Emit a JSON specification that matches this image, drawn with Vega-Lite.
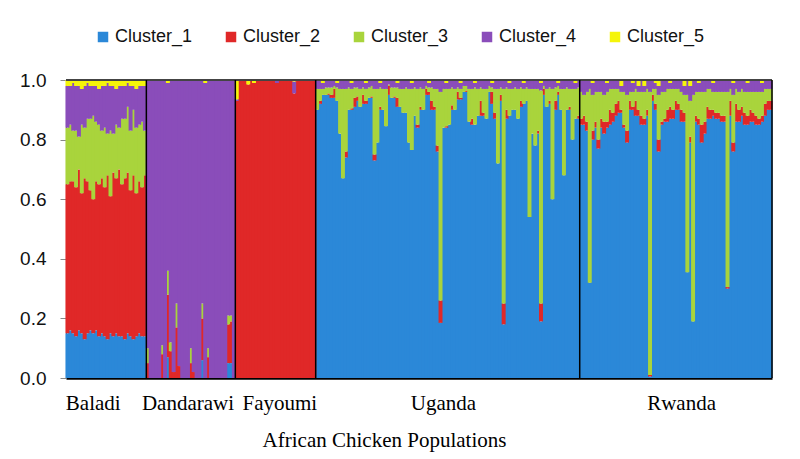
{
"$schema": "https://vega.github.io/schema/vega-lite/v6.json",
"autosize": {"type": "none"},
"width": 706, "height": 298,
"padding": {"left": 66, "top": 80, "right": 28, "bottom": 81},
"background": "white",
"config": {"view": {"stroke": null}},
"datasets": {
"q": [
{"id":1,"pop":"Baladi","b1":0.15,"b2":0.65,"b3":0.84,"b4":0.98},
{"id":2,"pop":"Baladi","b1":0.16,"b2":0.66,"b3":0.85,"b4":0.98},
{"id":3,"pop":"Baladi","b1":0.15,"b2":0.66,"b3":0.83,"b4":0.99},
{"id":4,"pop":"Baladi","b1":0.14,"b2":0.64,"b3":0.83,"b4":0.98},
{"id":5,"pop":"Baladi","b1":0.16,"b2":0.70,"b3":0.81,"b4":0.98},
{"id":6,"pop":"Baladi","b1":0.15,"b2":0.62,"b3":0.85,"b4":0.97},
{"id":7,"pop":"Baladi","b1":0.13,"b2":0.67,"b3":0.84,"b4":0.98},
{"id":8,"pop":"Baladi","b1":0.15,"b2":0.66,"b3":0.87,"b4":0.99},
{"id":9,"pop":"Baladi","b1":0.16,"b2":0.63,"b3":0.87,"b4":0.98},
{"id":10,"pop":"Baladi","b1":0.15,"b2":0.60,"b3":0.88,"b4":0.98},
{"id":11,"pop":"Baladi","b1":0.16,"b2":0.66,"b3":0.86,"b4":0.98},
{"id":12,"pop":"Baladi","b1":0.14,"b2":0.65,"b3":0.85,"b4":0.97},
{"id":13,"pop":"Baladi","b1":0.15,"b2":0.67,"b3":0.83,"b4":0.98},
{"id":14,"pop":"Baladi","b1":0.14,"b2":0.64,"b3":0.84,"b4":0.98},
{"id":15,"pop":"Baladi","b1":0.13,"b2":0.68,"b3":0.82,"b4":0.99},
{"id":16,"pop":"Baladi","b1":0.15,"b2":0.61,"b3":0.83,"b4":0.98},
{"id":17,"pop":"Baladi","b1":0.14,"b2":0.69,"b3":0.82,"b4":0.98},
{"id":18,"pop":"Baladi","b1":0.15,"b2":0.67,"b3":0.85,"b4":0.97},
{"id":19,"pop":"Baladi","b1":0.14,"b2":0.70,"b3":0.84,"b4":0.98},
{"id":20,"pop":"Baladi","b1":0.14,"b2":0.65,"b3":0.87,"b4":0.98},
{"id":21,"pop":"Baladi","b1":0.13,"b2":0.67,"b3":0.87,"b4":0.98},
{"id":22,"pop":"Baladi","b1":0.15,"b2":0.69,"b3":0.91,"b4":0.99},
{"id":23,"pop":"Baladi","b1":0.14,"b2":0.63,"b3":0.83,"b4":0.98},
{"id":24,"pop":"Baladi","b1":0.13,"b2":0.68,"b3":0.90,"b4":0.98},
{"id":25,"pop":"Baladi","b1":0.14,"b2":0.62,"b3":0.84,"b4":0.97},
{"id":26,"pop":"Baladi","b1":0.15,"b2":0.66,"b3":0.85,"b4":0.98},
{"id":27,"pop":"Baladi","b1":0.14,"b2":0.64,"b3":0.86,"b4":0.98},
{"id":28,"pop":"Baladi","b1":0.14,"b2":0.68,"b3":0.83,"b4":0.98},
{"id":29,"pop":"Dandarawi","b1":0,"b2":0.05,"b3":0.10,"b4":1},
{"id":30,"pop":"Dandarawi","b1":0,"b2":0,"b3":0,"b4":1},
{"id":31,"pop":"Dandarawi","b1":0,"b2":0,"b3":0,"b4":1},
{"id":32,"pop":"Dandarawi","b1":0,"b2":0,"b3":0,"b4":1},
{"id":33,"pop":"Dandarawi","b1":0,"b2":0,"b3":0,"b4":1},
{"id":34,"pop":"Dandarawi","b1":0,"b2":0.08,"b3":0.11,"b4":1},
{"id":35,"pop":"Dandarawi","b1":0,"b2":0,"b3":0,"b4":1},
{"id":36,"pop":"Dandarawi","b1":0.07,"b2":0.28,"b3":0.36,"b4":0.99},
{"id":37,"pop":"Dandarawi","b1":0,"b2":0.09,"b3":0.12,"b4":1},
{"id":38,"pop":"Dandarawi","b1":0,"b2":0.02,"b3":0.02,"b4":1},
{"id":39,"pop":"Dandarawi","b1":0,"b2":0.17,"b3":0.25,"b4":1},
{"id":40,"pop":"Dandarawi","b1":0,"b2":0.04,"b3":0.04,"b4":1},
{"id":41,"pop":"Dandarawi","b1":0,"b2":0,"b3":0,"b4":1},
{"id":42,"pop":"Dandarawi","b1":0,"b2":0,"b3":0,"b4":1},
{"id":43,"pop":"Dandarawi","b1":0,"b2":0,"b3":0,"b4":1},
{"id":44,"pop":"Dandarawi","b1":0,"b2":0.05,"b3":0.10,"b4":1},
{"id":45,"pop":"Dandarawi","b1":0,"b2":0.02,"b3":0.02,"b4":1},
{"id":46,"pop":"Dandarawi","b1":0,"b2":0,"b3":0,"b4":1},
{"id":47,"pop":"Dandarawi","b1":0,"b2":0,"b3":0,"b4":1},
{"id":48,"pop":"Dandarawi","b1":0.06,"b2":0.20,"b3":0.25,"b4":1},
{"id":49,"pop":"Dandarawi","b1":0,"b2":0,"b3":0,"b4":0.99},
{"id":50,"pop":"Dandarawi","b1":0,"b2":0.07,"b3":0.10,"b4":1},
{"id":51,"pop":"Dandarawi","b1":0,"b2":0,"b3":0,"b4":1},
{"id":52,"pop":"Dandarawi","b1":0,"b2":0,"b3":0,"b4":1},
{"id":53,"pop":"Dandarawi","b1":0,"b2":0,"b3":0,"b4":1},
{"id":54,"pop":"Dandarawi","b1":0,"b2":0,"b3":0,"b4":1},
{"id":55,"pop":"Dandarawi","b1":0,"b2":0,"b3":0,"b4":1},
{"id":56,"pop":"Dandarawi","b1":0,"b2":0,"b3":0,"b4":1},
{"id":57,"pop":"Dandarawi","b1":0.05,"b2":0.18,"b3":0.21,"b4":1},
{"id":58,"pop":"Dandarawi","b1":0.05,"b2":0.19,"b3":0.21,"b4":1},
{"id":59,"pop":"Dandarawi","b1":0,"b2":0,"b3":0,"b4":1},
{"id":60,"pop":"Fayoumi","b1":0,"b2":0.93,"b3":0.93,"b4":0.935},
{"id":61,"pop":"Fayoumi","b1":0,"b2":1,"b3":1,"b4":1},
{"id":62,"pop":"Fayoumi","b1":0,"b2":1,"b3":1,"b4":1},
{"id":63,"pop":"Fayoumi","b1":0,"b2":1,"b3":1,"b4":1},
{"id":64,"pop":"Fayoumi","b1":0,"b2":0.985,"b3":0.985,"b4":0.985},
{"id":65,"pop":"Fayoumi","b1":0,"b2":1,"b3":1,"b4":1},
{"id":66,"pop":"Fayoumi","b1":0,"b2":0.99,"b3":0.99,"b4":0.99},
{"id":67,"pop":"Fayoumi","b1":0,"b2":1,"b3":1,"b4":1},
{"id":68,"pop":"Fayoumi","b1":0,"b2":1,"b3":1,"b4":1},
{"id":69,"pop":"Fayoumi","b1":0,"b2":1,"b3":1,"b4":1},
{"id":70,"pop":"Fayoumi","b1":0,"b2":1,"b3":1,"b4":1},
{"id":71,"pop":"Fayoumi","b1":0,"b2":1,"b3":1,"b4":1},
{"id":72,"pop":"Fayoumi","b1":0,"b2":1,"b3":1,"b4":1},
{"id":73,"pop":"Fayoumi","b1":0,"b2":1,"b3":1,"b4":1},
{"id":74,"pop":"Fayoumi","b1":0,"b2":0.99,"b3":0.99,"b4":1},
{"id":75,"pop":"Fayoumi","b1":0,"b2":1,"b3":1,"b4":1},
{"id":76,"pop":"Fayoumi","b1":0,"b2":1,"b3":1,"b4":1},
{"id":77,"pop":"Fayoumi","b1":0,"b2":1,"b3":1,"b4":1},
{"id":78,"pop":"Fayoumi","b1":0,"b2":1,"b3":1,"b4":1},
{"id":79,"pop":"Fayoumi","b1":0,"b2":1,"b3":1,"b4":1},
{"id":80,"pop":"Fayoumi","b1":0,"b2":0.955,"b3":0.955,"b4":0.995},
{"id":81,"pop":"Fayoumi","b1":0,"b2":1,"b3":1,"b4":1},
{"id":82,"pop":"Fayoumi","b1":0,"b2":1,"b3":1,"b4":1},
{"id":83,"pop":"Fayoumi","b1":0,"b2":1,"b3":1,"b4":1},
{"id":84,"pop":"Fayoumi","b1":0,"b2":1,"b3":1,"b4":1},
{"id":85,"pop":"Fayoumi","b1":0,"b2":1,"b3":1,"b4":1},
{"id":86,"pop":"Fayoumi","b1":0,"b2":1,"b3":1,"b4":1},
{"id":87,"pop":"Fayoumi","b1":0,"b2":1,"b3":1,"b4":1},
{"id":88,"pop":"Uganda","b1":0.90,"b2":0.90,"b3":0.97,"b4":0.997},
{"id":89,"pop":"Uganda","b1":0.92,"b2":0.93,"b3":0.97,"b4":0.997},
{"id":90,"pop":"Uganda","b1":0.95,"b2":0.95,"b3":0.97,"b4":0.99},
{"id":91,"pop":"Uganda","b1":0.95,"b2":0.95,"b3":0.975,"b4":0.997},
{"id":92,"pop":"Uganda","b1":0.95,"b2":0.955,"b3":0.975,"b4":0.997},
{"id":93,"pop":"Uganda","b1":0.94,"b2":0.95,"b3":0.975,"b4":0.997},
{"id":94,"pop":"Uganda","b1":0.94,"b2":0.97,"b3":0.98,"b4":0.997},
{"id":95,"pop":"Uganda","b1":0.93,"b2":0.93,"b3":0.975,"b4":0.99},
{"id":96,"pop":"Uganda","b1":0.82,"b2":0.82,"b3":0.97,"b4":0.997},
{"id":97,"pop":"Uganda","b1":0.67,"b2":0.67,"b3":0.97,"b4":0.997},
{"id":98,"pop":"Uganda","b1":0.74,"b2":0.76,"b3":0.97,"b4":0.997},
{"id":99,"pop":"Uganda","b1":0.90,"b2":0.90,"b3":0.975,"b4":0.997},
{"id":100,"pop":"Uganda","b1":0.90,"b2":0.905,"b3":0.97,"b4":0.99},
{"id":101,"pop":"Uganda","b1":0.91,"b2":0.94,"b3":0.975,"b4":0.997},
{"id":102,"pop":"Uganda","b1":0.93,"b2":0.945,"b3":0.975,"b4":0.997},
{"id":103,"pop":"Uganda","b1":0.91,"b2":0.91,"b3":0.97,"b4":0.997},
{"id":104,"pop":"Uganda","b1":0.92,"b2":0.95,"b3":0.975,"b4":0.997},
{"id":105,"pop":"Uganda","b1":0.92,"b2":0.93,"b3":0.97,"b4":0.99},
{"id":106,"pop":"Uganda","b1":0.94,"b2":0.94,"b3":0.975,"b4":0.997},
{"id":107,"pop":"Uganda","b1":0.94,"b2":0.945,"b3":0.98,"b4":0.997},
{"id":108,"pop":"Uganda","b1":0.73,"b2":0.75,"b3":0.97,"b4":0.997},
{"id":109,"pop":"Uganda","b1":0.79,"b2":0.79,"b3":0.97,"b4":0.997},
{"id":110,"pop":"Uganda","b1":0.90,"b2":0.91,"b3":0.975,"b4":0.99},
{"id":111,"pop":"Uganda","b1":0.90,"b2":0.90,"b3":0.97,"b4":0.997},
{"id":112,"pop":"Uganda","b1":0.845,"b2":0.845,"b3":0.97,"b4":0.997},
{"id":113,"pop":"Uganda","b1":0.95,"b2":0.98,"b3":0.985,"b4":0.997},
{"id":114,"pop":"Uganda","b1":0.94,"b2":0.94,"b3":0.975,"b4":0.997},
{"id":115,"pop":"Uganda","b1":0.94,"b2":0.945,"b3":0.975,"b4":0.997},
{"id":116,"pop":"Uganda","b1":0.91,"b2":0.94,"b3":0.975,"b4":0.99},
{"id":117,"pop":"Uganda","b1":0.91,"b2":0.91,"b3":0.97,"b4":0.997},
{"id":118,"pop":"Uganda","b1":0.89,"b2":0.89,"b3":0.97,"b4":0.997},
{"id":119,"pop":"Uganda","b1":0.89,"b2":0.89,"b3":0.975,"b4":0.997},
{"id":120,"pop":"Uganda","b1":0.79,"b2":0.79,"b3":0.97,"b4":0.997},
{"id":121,"pop":"Uganda","b1":0.765,"b2":0.765,"b3":0.97,"b4":0.99},
{"id":122,"pop":"Uganda","b1":0.88,"b2":0.88,"b3":0.975,"b4":0.997},
{"id":123,"pop":"Uganda","b1":0.84,"b2":0.85,"b3":0.97,"b4":0.997},
{"id":124,"pop":"Uganda","b1":0.90,"b2":0.91,"b3":0.975,"b4":0.997},
{"id":125,"pop":"Uganda","b1":0.90,"b2":0.90,"b3":0.97,"b4":0.997},
{"id":126,"pop":"Uganda","b1":0.95,"b2":0.97,"b3":0.98,"b4":0.997},
{"id":127,"pop":"Uganda","b1":0.95,"b2":0.96,"b3":0.975,"b4":0.99},
{"id":128,"pop":"Uganda","b1":0.90,"b2":0.93,"b3":0.975,"b4":0.997},
{"id":129,"pop":"Uganda","b1":0.90,"b2":0.91,"b3":0.97,"b4":0.997},
{"id":130,"pop":"Uganda","b1":0.76,"b2":0.78,"b3":0.97,"b4":0.997},
{"id":131,"pop":"Uganda","b1":0.185,"b2":0.26,"b3":0.96,"b4":0.997},
{"id":132,"pop":"Uganda","b1":0.84,"b2":0.84,"b3":0.97,"b4":0.997},
{"id":133,"pop":"Uganda","b1":0.84,"b2":0.845,"b3":0.97,"b4":0.99},
{"id":134,"pop":"Uganda","b1":0.85,"b2":0.85,"b3":0.97,"b4":0.997},
{"id":135,"pop":"Uganda","b1":0.90,"b2":0.915,"b3":0.975,"b4":0.997},
{"id":136,"pop":"Uganda","b1":0.90,"b2":0.90,"b3":0.97,"b4":0.997},
{"id":137,"pop":"Uganda","b1":0.935,"b2":0.96,"b3":0.975,"b4":0.997},
{"id":138,"pop":"Uganda","b1":0.935,"b2":0.94,"b3":0.97,"b4":0.99},
{"id":139,"pop":"Uganda","b1":0.96,"b2":0.96,"b3":0.98,"b4":0.997},
{"id":140,"pop":"Uganda","b1":0.96,"b2":0.965,"b3":0.98,"b4":0.997},
{"id":141,"pop":"Uganda","b1":0.86,"b2":0.86,"b3":0.97,"b4":0.997},
{"id":142,"pop":"Uganda","b1":0.85,"b2":0.87,"b3":0.97,"b4":0.997},
{"id":143,"pop":"Uganda","b1":0.85,"b2":0.85,"b3":0.975,"b4":0.99},
{"id":144,"pop":"Uganda","b1":0.88,"b2":0.88,"b3":0.97,"b4":0.997},
{"id":145,"pop":"Uganda","b1":0.88,"b2":0.93,"b3":0.975,"b4":0.997},
{"id":146,"pop":"Uganda","b1":0.88,"b2":0.89,"b3":0.97,"b4":0.997},
{"id":147,"pop":"Uganda","b1":0.87,"b2":0.87,"b3":0.97,"b4":0.997},
{"id":148,"pop":"Uganda","b1":0.96,"b2":0.96,"b3":0.98,"b4":0.997},
{"id":149,"pop":"Uganda","b1":0.92,"b2":0.96,"b3":0.975,"b4":0.99},
{"id":150,"pop":"Uganda","b1":0.87,"b2":0.89,"b3":0.97,"b4":0.997},
{"id":151,"pop":"Uganda","b1":0.72,"b2":0.72,"b3":0.97,"b4":0.997},
{"id":152,"pop":"Uganda","b1":0.93,"b2":0.95,"b3":0.975,"b4":0.997},
{"id":153,"pop":"Uganda","b1":0.18,"b2":0.25,"b3":0.97,"b4":0.997},
{"id":154,"pop":"Uganda","b1":0.87,"b2":0.90,"b3":0.975,"b4":0.997},
{"id":155,"pop":"Uganda","b1":0.88,"b2":0.88,"b3":0.97,"b4":0.99},
{"id":156,"pop":"Uganda","b1":0.90,"b2":0.90,"b3":0.97,"b4":0.997},
{"id":157,"pop":"Uganda","b1":0.90,"b2":0.90,"b3":0.975,"b4":0.997},
{"id":158,"pop":"Uganda","b1":0.87,"b2":0.87,"b3":0.97,"b4":0.997},
{"id":159,"pop":"Uganda","b1":0.91,"b2":0.93,"b3":0.975,"b4":0.997},
{"id":160,"pop":"Uganda","b1":0.92,"b2":0.92,"b3":0.97,"b4":0.99},
{"id":161,"pop":"Uganda","b1":0.93,"b2":0.93,"b3":0.975,"b4":0.997},
{"id":162,"pop":"Uganda","b1":0.54,"b2":0.54,"b3":0.97,"b4":0.997},
{"id":163,"pop":"Uganda","b1":0.82,"b2":0.82,"b3":0.97,"b4":0.997},
{"id":164,"pop":"Uganda","b1":0.78,"b2":0.78,"b3":0.97,"b4":0.997},
{"id":165,"pop":"Uganda","b1":0.82,"b2":0.83,"b3":0.97,"b4":0.997},
{"id":166,"pop":"Uganda","b1":0.19,"b2":0.25,"b3":0.965,"b4":0.99},
{"id":167,"pop":"Uganda","b1":0.95,"b2":0.97,"b3":0.98,"b4":0.997},
{"id":168,"pop":"Uganda","b1":0.91,"b2":0.91,"b3":0.97,"b4":0.997},
{"id":169,"pop":"Uganda","b1":0.92,"b2":0.93,"b3":0.975,"b4":0.997},
{"id":170,"pop":"Uganda","b1":0.60,"b2":0.60,"b3":0.97,"b4":0.997},
{"id":171,"pop":"Uganda","b1":0.90,"b2":0.93,"b3":0.975,"b4":0.997},
{"id":172,"pop":"Uganda","b1":0.95,"b2":0.96,"b3":0.98,"b4":0.99},
{"id":173,"pop":"Uganda","b1":0.90,"b2":0.90,"b3":0.97,"b4":0.997},
{"id":174,"pop":"Uganda","b1":0.68,"b2":0.68,"b3":0.97,"b4":0.997},
{"id":175,"pop":"Uganda","b1":0.90,"b2":0.90,"b3":0.975,"b4":0.997},
{"id":176,"pop":"Uganda","b1":0.90,"b2":0.91,"b3":0.97,"b4":0.997},
{"id":177,"pop":"Uganda","b1":0.80,"b2":0.80,"b3":0.97,"b4":0.997},
{"id":178,"pop":"Uganda","b1":0.87,"b2":0.87,"b3":0.97,"b4":0.99},
{"id":179,"pop":"Uganda","b1":0.87,"b2":0.88,"b3":0.975,"b4":0.997},
{"id":180,"pop":"Rwanda","b1":0.85,"b2":0.87,"b3":0.96,"b4":0.997},
{"id":181,"pop":"Rwanda","b1":0.85,"b2":0.88,"b3":0.95,"b4":0.997},
{"id":182,"pop":"Rwanda","b1":0.83,"b2":0.86,"b3":0.96,"b4":0.997},
{"id":183,"pop":"Rwanda","b1":0.32,"b2":0.32,"b3":0.97,"b4":0.997},
{"id":184,"pop":"Rwanda","b1":0.80,"b2":0.83,"b3":0.95,"b4":0.99},
{"id":185,"pop":"Rwanda","b1":0.84,"b2":0.86,"b3":0.96,"b4":0.997},
{"id":186,"pop":"Rwanda","b1":0.77,"b2":0.80,"b3":0.96,"b4":0.997},
{"id":187,"pop":"Rwanda","b1":0.84,"b2":0.87,"b3":0.96,"b4":0.997},
{"id":188,"pop":"Rwanda","b1":0.82,"b2":0.86,"b3":0.95,"b4":0.997},
{"id":189,"pop":"Rwanda","b1":0.84,"b2":0.86,"b3":0.96,"b4":0.99},
{"id":190,"pop":"Rwanda","b1":0.85,"b2":0.90,"b3":0.97,"b4":0.997},
{"id":191,"pop":"Rwanda","b1":0.86,"b2":0.89,"b3":0.97,"b4":0.997},
{"id":192,"pop":"Rwanda","b1":0.88,"b2":0.92,"b3":0.97,"b4":0.997},
{"id":193,"pop":"Rwanda","b1":0.89,"b2":0.93,"b3":0.97,"b4":0.997},
{"id":194,"pop":"Rwanda","b1":0.89,"b2":0.90,"b3":0.96,"b4":0.98},
{"id":195,"pop":"Rwanda","b1":0.84,"b2":0.85,"b3":0.96,"b4":0.997},
{"id":196,"pop":"Rwanda","b1":0.79,"b2":0.83,"b3":0.95,"b4":0.997},
{"id":197,"pop":"Rwanda","b1":0.90,"b2":0.93,"b3":0.96,"b4":0.997},
{"id":198,"pop":"Rwanda","b1":0.90,"b2":0.91,"b3":0.96,"b4":0.99},
{"id":199,"pop":"Rwanda","b1":0.88,"b2":0.93,"b3":0.97,"b4":0.997},
{"id":200,"pop":"Rwanda","b1":0.88,"b2":0.90,"b3":0.96,"b4":0.98},
{"id":201,"pop":"Rwanda","b1":0.85,"b2":0.88,"b3":0.96,"b4":0.997},
{"id":202,"pop":"Rwanda","b1":0.85,"b2":0.87,"b3":0.96,"b4":0.98},
{"id":203,"pop":"Rwanda","b1":0.88,"b2":0.90,"b3":0.97,"b4":0.997},
{"id":204,"pop":"Rwanda","b1":0.005,"b2":0.01,"b3":0.96,"b4":0.997},
{"id":205,"pop":"Rwanda","b1":0.93,"b2":0.95,"b3":0.97,"b4":0.997},
{"id":206,"pop":"Rwanda","b1":0.90,"b2":0.92,"b3":0.97,"b4":0.99},
{"id":207,"pop":"Rwanda","b1":0.76,"b2":0.80,"b3":0.95,"b4":0.98},
{"id":208,"pop":"Rwanda","b1":0.85,"b2":0.86,"b3":0.96,"b4":0.997},
{"id":209,"pop":"Rwanda","b1":0.86,"b2":0.87,"b3":0.96,"b4":0.997},
{"id":210,"pop":"Rwanda","b1":0.86,"b2":0.90,"b3":0.97,"b4":0.997},
{"id":211,"pop":"Rwanda","b1":0.87,"b2":0.91,"b3":0.97,"b4":0.99},
{"id":212,"pop":"Rwanda","b1":0.87,"b2":0.90,"b3":0.97,"b4":0.997},
{"id":213,"pop":"Rwanda","b1":0.90,"b2":0.93,"b3":0.97,"b4":0.997},
{"id":214,"pop":"Rwanda","b1":0.90,"b2":0.92,"b3":0.97,"b4":0.997},
{"id":215,"pop":"Rwanda","b1":0.86,"b2":0.90,"b3":0.96,"b4":0.997},
{"id":216,"pop":"Rwanda","b1":0.86,"b2":0.89,"b3":0.95,"b4":0.98},
{"id":217,"pop":"Rwanda","b1":0.355,"b2":0.355,"b3":0.95,"b4":0.997},
{"id":218,"pop":"Rwanda","b1":0.79,"b2":0.81,"b3":0.93,"b4":0.98},
{"id":219,"pop":"Rwanda","b1":0.19,"b2":0.19,"b3":0.95,"b4":0.997},
{"id":220,"pop":"Rwanda","b1":0.86,"b2":0.88,"b3":0.96,"b4":0.997},
{"id":221,"pop":"Rwanda","b1":0.85,"b2":0.87,"b3":0.96,"b4":0.99},
{"id":222,"pop":"Rwanda","b1":0.79,"b2":0.85,"b3":0.96,"b4":0.997},
{"id":223,"pop":"Rwanda","b1":0.82,"b2":0.86,"b3":0.96,"b4":0.997},
{"id":224,"pop":"Rwanda","b1":0.87,"b2":0.91,"b3":0.97,"b4":0.997},
{"id":225,"pop":"Rwanda","b1":0.87,"b2":0.90,"b3":0.97,"b4":0.997},
{"id":226,"pop":"Rwanda","b1":0.88,"b2":0.90,"b3":0.96,"b4":0.99},
{"id":227,"pop":"Rwanda","b1":0.87,"b2":0.89,"b3":0.96,"b4":0.997},
{"id":228,"pop":"Rwanda","b1":0.87,"b2":0.89,"b3":0.96,"b4":0.997},
{"id":229,"pop":"Rwanda","b1":0.86,"b2":0.88,"b3":0.96,"b4":0.997},
{"id":230,"pop":"Rwanda","b1":0.86,"b2":0.88,"b3":0.96,"b4":0.997},
{"id":231,"pop":"Rwanda","b1":0.30,"b2":0.305,"b3":0.96,"b4":0.997},
{"id":232,"pop":"Rwanda","b1":0.88,"b2":0.93,"b3":0.97,"b4":0.997},
{"id":233,"pop":"Rwanda","b1":0.76,"b2":0.79,"b3":0.95,"b4":0.99},
{"id":234,"pop":"Rwanda","b1":0.86,"b2":0.92,"b3":0.97,"b4":0.997},
{"id":235,"pop":"Rwanda","b1":0.86,"b2":0.90,"b3":0.96,"b4":0.997},
{"id":236,"pop":"Rwanda","b1":0.88,"b2":0.91,"b3":0.97,"b4":0.997},
{"id":237,"pop":"Rwanda","b1":0.85,"b2":0.89,"b3":0.96,"b4":0.997},
{"id":238,"pop":"Rwanda","b1":0.85,"b2":0.88,"b3":0.96,"b4":0.99},
{"id":239,"pop":"Rwanda","b1":0.86,"b2":0.90,"b3":0.96,"b4":0.997},
{"id":240,"pop":"Rwanda","b1":0.86,"b2":0.89,"b3":0.96,"b4":0.997},
{"id":241,"pop":"Rwanda","b1":0.85,"b2":0.88,"b3":0.96,"b4":0.997},
{"id":242,"pop":"Rwanda","b1":0.85,"b2":0.87,"b3":0.96,"b4":0.997},
{"id":243,"pop":"Rwanda","b1":0.86,"b2":0.88,"b3":0.96,"b4":0.99},
{"id":244,"pop":"Rwanda","b1":0.88,"b2":0.92,"b3":0.97,"b4":0.997},
{"id":245,"pop":"Rwanda","b1":0.90,"b2":0.93,"b3":0.97,"b4":0.997},
{"id":246,"pop":"Rwanda","b1":0.90,"b2":0.93,"b3":0.97,"b4":0.997}
],
"sep": [{"id":29},{"id":60},{"id":88},{"id":180}],
"edge": [{"id":246}]
},
"data": {"name": "q"},
"layer": [
{"mark": {"type": "bar", "width": {"band": 1.38}},
 "encoding": {
  "x": {"field": "id", "type": "ordinal", "scale": {"paddingInner": 0, "paddingOuter": 0},
   "axis": {"values": [10, 43, 75, 132, 215], "labelExpr": "datum.value == 10 ? 'Baladi' : datum.value == 43 ? 'Dandarawi' : datum.value == 75 ? 'Fayoumi' : datum.value == 132 ? 'Uganda' : 'Rwanda'",
    "labelAngle": 0, "labelFont": "Liberation Serif", "labelFontSize": 21, "labelColor": "#000", "labelPadding": 14,
    "ticks": false, "domainColor": "#000", "domainWidth": 2.5,
    "title": "African Chicken Populations", "titleFont": "Liberation Serif", "titleFontSize": 21, "titleFontWeight": "normal", "titleColor": "#000", "titlePadding": 16, "titleX": 318}},
  "y": {"field": "b1", "type": "quantitative", "stack": null, "scale": {"domain": [0, 1], "nice": false},
   "axis": {"values": [0, 0.1, 0.2, 0.3, 0.4, 0.5, 0.6, 0.7, 0.8, 0.9, 1.0], "format": ".1f", "title": null, "grid": false,
    "labelFont": "Liberation Sans", "labelFontSize": 19, "labelColor": "#111", "labelPadding": 14,
    "tickColor": "#888", "tickSize": 6, "domainColor": "#555", "domainWidth": 1}},
  "color": {"datum": "Cluster_1", "type": "nominal",
   "scale": {"domain": ["Cluster_1", "Cluster_2", "Cluster_3", "Cluster_4", "Cluster_5"], "range": ["#2B88D8", "#E02828", "#A9D43C", "#8A4DBA", "#F5F50A"]},
   "legend": {"title": null, "orient": "none", "legendX": 28, "legendY": -52, "direction": "horizontal", "columns": 5,
    "symbolType": "square", "symbolSize": 110, "symbolStrokeWidth": 0, "labelFont": "Liberation Sans", "labelFontSize": 18, "labelColor": "#111",
    "labelOffset": 3, "columnPadding": 29}}
 }},
{"mark": {"type": "bar", "width": {"band": 1.38}},
 "encoding": {"x": {"field": "id", "type": "ordinal"}, "y": {"field": "b1", "type": "quantitative"}, "y2": {"field": "b2"}, "color": {"datum": "Cluster_2", "type": "nominal"}}},
{"mark": {"type": "bar", "width": {"band": 1.38}},
 "encoding": {"x": {"field": "id", "type": "ordinal"}, "y": {"field": "b2", "type": "quantitative"}, "y2": {"field": "b3"}, "color": {"datum": "Cluster_3", "type": "nominal"}}},
{"mark": {"type": "bar", "width": {"band": 1.38}},
 "encoding": {"x": {"field": "id", "type": "ordinal"}, "y": {"field": "b3", "type": "quantitative"}, "y2": {"field": "b4"}, "color": {"datum": "Cluster_4", "type": "nominal"}}},
{"mark": {"type": "bar", "width": {"band": 1.38}},
 "encoding": {"x": {"field": "id", "type": "ordinal"}, "y": {"field": "b4", "type": "quantitative"}, "y2": {"datum": 1}, "color": {"datum": "Cluster_5", "type": "nominal"}}},
{"mark": {"type": "rule", "color": "#444", "strokeWidth": 1},
 "encoding": {"y": {"datum": 1, "type": "quantitative"}}},
{"data": {"name": "sep"}, "mark": {"type": "rule", "color": "#000", "strokeWidth": 1.5},
 "encoding": {"x": {"field": "id", "type": "ordinal", "bandPosition": 0}}},
{"data": {"name": "edge"}, "mark": {"type": "rule", "color": "#000", "strokeWidth": 1.5},
 "encoding": {"x": {"field": "id", "type": "ordinal", "bandPosition": 1}}}
]
}
